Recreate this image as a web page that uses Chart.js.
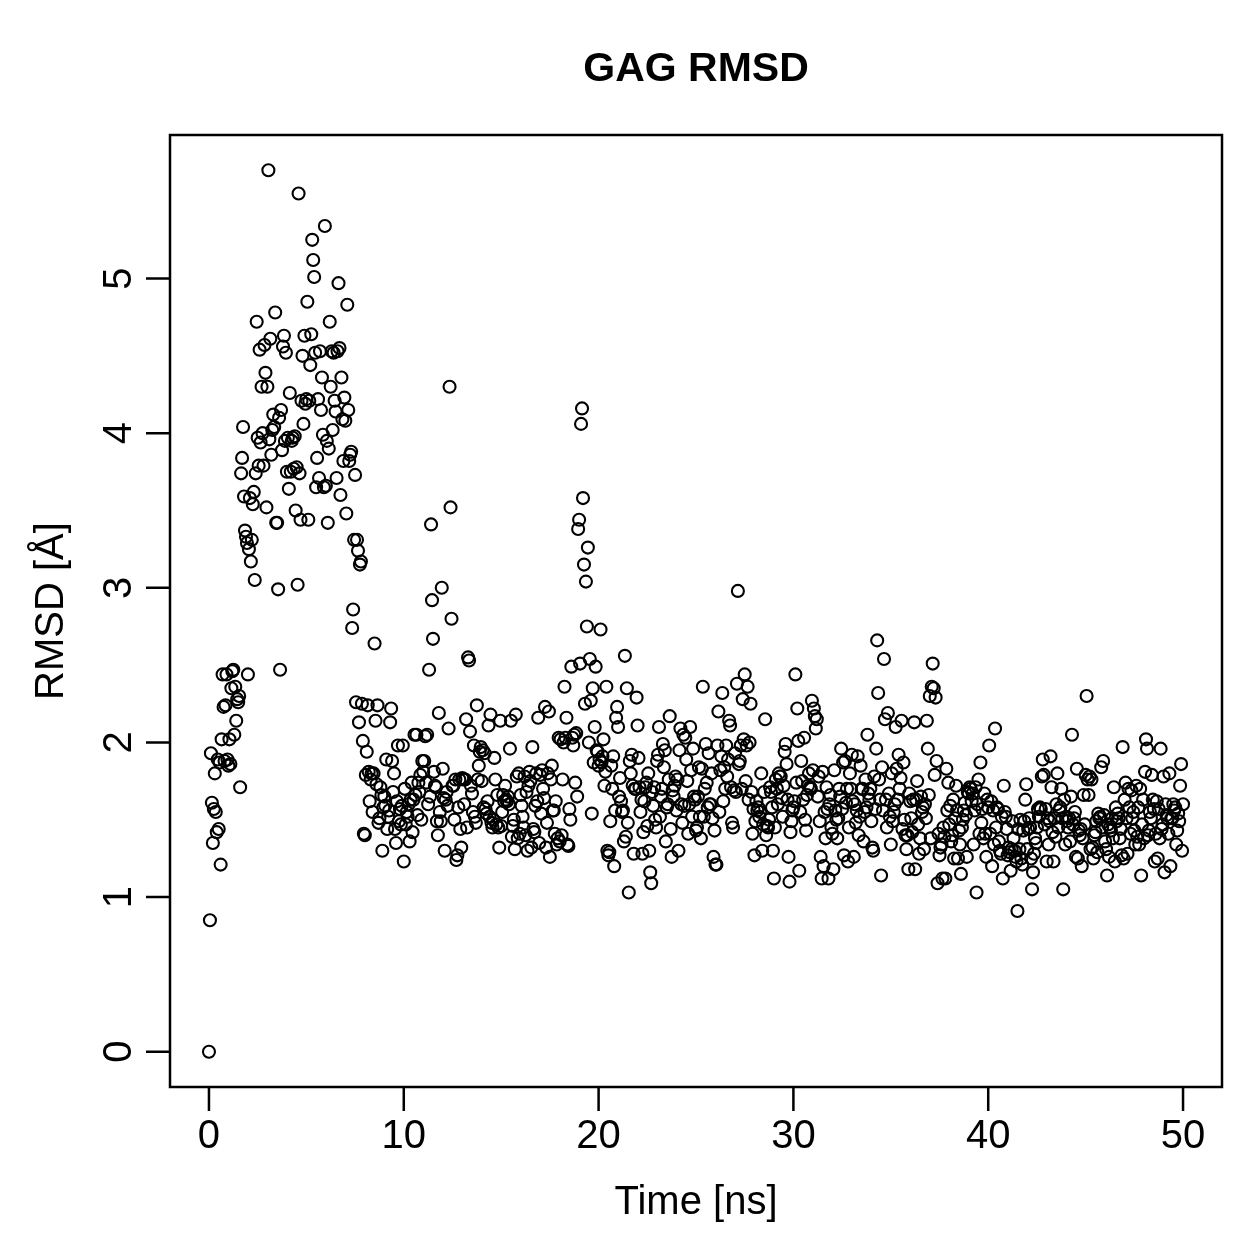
<!DOCTYPE html>
<html>
<head>
<meta charset="utf-8">
<script src="https://cdn.jsdelivr.net/npm/chart.js@4.4.0/dist/chart.umd.min.js"></script>
<style>
  html, body { margin: 0; padding: 0; background: #fff; }
</style>
</head>
<body>
<canvas id="rmsdChart" width="1259" height="1259"></canvas>
<script>
// one frame every 0.05 ns, 0..50 ns
const timeStep = 0.05;
// RMSD in Angstrom, one row per ns (20 frames each)
const rmsd = [
  0, 0.85, 1.93, 1.61, 1.35, 1.57, 1.80, 1.55, 1.42, 1.89, 1.44, 1.87, 1.21, 2.02, 2.44, 2.23, 1.88, 2.24, 2.44, 1.89,
  1.85, 2.02, 1.86, 2.35, 2.46, 2.47, 2.05, 2.36, 2.14, 2.28, 2.26, 2.30, 1.71, 3.74, 3.84, 4.04, 3.59, 3.37, 3.33, 3.29,
  2.44, 3.25, 3.58, 3.17, 3.31, 3.54, 3.62, 3.05, 3.74, 4.72, 3.97, 3.79, 4.54, 3.94, 4.30, 4.00, 3.79, 4.57, 4.39, 3.52,
  4.30, 5.70, 3.96, 4.61, 3.86, 4.02, 4.12, 4.04, 4.78, 3.42, 3.42, 2.99, 4.10, 2.47, 4.15, 3.89, 4.56, 4.63, 3.95, 4.52,
  3.75, 3.97, 3.64, 4.26, 3.75, 3.95, 3.97, 3.77, 3.98, 3.50, 3.78, 3.02, 5.55, 3.74, 3.44, 4.21, 4.50, 4.06, 4.63, 4.19,
  4.22, 4.85, 3.44, 4.21, 4.44, 4.64, 5.25, 5.12, 5.01, 4.52, 3.65, 3.84, 4.22, 3.71, 4.53, 4.15, 4.36, 3.99, 3.65, 5.34,
  3.66, 3.95, 3.42, 3.90, 4.72, 4.30, 4.53, 4.02, 4.52, 4.21, 4.14, 3.71, 4.53, 4.97, 4.55, 3.60, 4.36, 4.09, 3.82, 4.23,
  4.08, 3.48, 4.83, 4.15, 3.82, 3.86, 3.88, 2.74, 2.86, 3.31, 3.73, 2.26, 3.31, 3.24, 2.13, 3.15, 3.17, 2.25, 2.01, 1.41,
  1.40, 1.79, 1.94, 2.24, 1.81, 1.62, 1.76, 1.80, 1.55, 1.80, 2.64, 2.14, 1.73, 2.24, 1.48, 1.51, 1.71, 1.66, 1.30, 1.58,
  1.65, 1.59, 1.89, 1.44, 1.52, 1.56, 2.13, 2.22, 1.88, 1.68, 1.80, 1.44, 1.35, 1.62, 1.98, 1.49, 1.57, 1.47, 1.59, 1.98,
  1.23, 1.70, 1.47, 1.55, 1.52, 1.60, 1.36, 1.63, 1.74, 1.42, 1.63, 2.05, 1.66, 2.05, 1.53, 1.74, 1.68, 1.79, 1.50, 1.88,
  1.81, 1.88, 2.04, 1.74, 2.05, 1.60, 2.47, 1.65, 3.41, 2.92, 2.67, 1.81, 1.72, 1.71, 1.49, 1.40, 2.19, 1.55, 1.49, 3.00,
  1.83, 1.64, 1.30, 1.63, 1.68, 1.59, 2.09, 4.30, 3.52, 2.80, 1.72, 1.72, 1.50, 1.76, 1.24, 1.27, 1.58, 1.76, 1.44, 1.32,
  1.77, 1.76, 1.60, 1.76, 2.15, 1.45, 2.55, 2.53, 2.07, 1.72, 1.67, 1.55, 1.98, 1.52, 1.48, 2.24, 1.76, 1.85, 1.94, 1.97,
  1.75, 1.95, 1.58, 1.93, 1.57, 1.54, 1.62, 2.11, 1.52, 2.18, 1.48, 1.45, 1.50, 1.90, 1.76, 1.47, 1.66, 1.45, 1.32, 2.14,
  1.46, 1.55, 1.66, 1.62, 1.72, 1.63, 1.62, 1.65, 1.60, 1.96, 2.14, 1.39, 1.46, 1.50, 1.31, 2.18, 1.78, 1.38, 1.80, 1.41,
  1.66, 1.59, 1.52, 1.45, 1.78, 1.40, 1.68, 1.30, 1.72, 1.81, 1.75, 1.32, 1.97, 1.44, 1.42, 1.59, 1.80, 1.62, 2.16, 1.35,
  1.79, 1.54, 1.82, 1.70, 1.64, 2.23, 1.32, 1.48, 1.80, 2.20, 1.26, 1.76, 1.85, 1.56, 1.56, 1.41, 1.62, 1.34, 1.38, 2.03,
  1.36, 2.02, 1.40, 1.76, 2.00, 2.36, 2.03, 2.16, 1.34, 1.33, 1.57, 1.50, 2.49, 2.03, 1.98, 2.05, 1.74, 2.06, 1.65, 3.38,
  3.44, 2.51, 4.06, 4.16, 3.58, 3.15, 2.25, 3.04, 2.75, 3.26, 2.00, 2.54, 2.27, 1.54, 2.35, 1.87, 2.10, 2.49, 1.95, 1.94,
  1.85, 1.89, 2.73, 1.87, 1.91, 2.02, 1.72, 1.81, 2.36, 1.30, 1.27, 1.29, 1.49, 1.85, 1.70, 1.91, 1.20, 1.56, 2.16, 2.23,
  2.10, 1.65, 1.77, 1.62, 1.55, 1.56, 1.36, 2.56, 1.39, 2.35, 1.48, 1.03, 1.88, 1.80, 1.92, 1.72, 1.28, 1.70, 1.70, 2.29,
  2.11, 1.90, 1.71, 1.55, 1.63, 1.28, 1.42, 1.62, 1.71, 1.74, 1.46, 1.80, 1.30, 1.16, 1.09, 1.68, 1.59, 1.71, 1.50, 1.45,
  1.88, 1.92, 2.10, 1.52, 1.65, 1.70, 1.99, 1.84, 1.95, 1.36, 1.58, 1.60, 1.76, 2.17, 1.44, 1.26, 1.69, 1.65, 1.72, 1.78,
  1.56, 1.76, 1.30, 1.95, 2.09, 1.60, 1.48, 2.05, 1.59, 2.03, 1.89, 1.75, 1.41, 1.60, 2.10, 1.82, 1.52, 1.96, 1.65, 1.63,
  1.43, 1.45, 1.65, 1.84, 1.52, 1.38, 1.83, 2.36, 1.52, 1.70, 1.99, 1.74, 1.58, 1.93, 1.60, 1.60, 1.80, 1.51, 1.26, 1.43,
  1.21, 1.21, 1.98, 2.20, 1.55, 1.82, 1.91, 2.32, 1.62, 1.84, 1.70, 1.98, 1.78, 1.89, 2.14, 2.11, 1.71, 1.48, 1.45, 1.69,
  1.93, 1.68, 2.38, 2.98, 1.86, 1.88, 1.98, 1.70, 2.28, 2.02, 2.44, 1.75, 1.98, 2.36, 1.63, 2.00, 2.25, 1.68, 1.41, 1.57,
  1.27, 1.49, 1.62, 1.56, 1.58, 1.52, 1.55, 1.80, 1.30, 1.47, 1.68, 2.15, 1.40, 1.46, 1.45, 1.50, 1.71, 1.68, 1.58, 1.30,
  1.12, 1.45, 1.76, 1.70, 1.60, 1.80, 1.78, 1.78, 1.64, 1.52, 1.72, 1.94, 1.99, 1.86, 1.63, 1.26, 1.10, 1.42, 1.49, 1.56,
  1.58, 1.62, 2.44, 1.74, 2.22, 2.01, 1.17, 1.55, 1.88, 1.75, 1.63, 2.03, 1.50, 1.43, 1.66, 1.72, 1.80, 1.71, 1.70, 2.27,
  1.82, 2.22, 2.17, 2.09, 2.15, 1.65, 1.78, 1.49, 1.26, 1.12, 1.81, 1.20, 1.55, 1.38, 1.71, 1.57, 1.12, 1.60, 1.66, 1.45,
  1.41, 1.18, 1.82, 1.56, 1.50, 1.38, 1.51, 1.70, 1.65, 1.96, 1.57, 1.87, 1.27, 1.88, 1.61, 1.70, 1.23, 1.45, 1.80, 1.70,
  1.92, 1.62, 1.26, 1.60, 1.48, 1.56, 1.91, 1.40, 1.52, 1.85, 1.70, 1.70, 1.36, 1.55, 1.76, 1.58, 2.05, 1.67, 1.63, 1.70,
  1.49, 1.32, 1.30, 1.78, 1.57, 1.96, 2.66, 2.32, 1.76, 1.63, 1.14, 1.84, 1.56, 2.54, 2.15, 1.63, 1.45, 2.19, 1.67, 1.52,
  1.34, 1.80, 1.49, 1.55, 1.60, 2.10, 1.83, 1.63, 1.92, 1.70, 1.77, 2.14, 1.44, 1.87, 1.50, 1.40, 1.31, 1.40, 1.18, 1.67,
  1.62, 1.51, 1.42, 1.63, 2.13, 1.18, 1.63, 1.75, 1.47, 1.28, 1.38, 1.65, 1.55, 1.58, 1.31, 1.60, 1.51, 2.14, 1.96, 1.66,
  2.30, 1.38, 2.36, 2.51, 2.35, 1.79, 2.29, 1.88, 1.09, 1.41, 1.27, 1.32, 1.34, 1.12, 1.45, 1.39, 1.12, 1.83, 1.56, 1.74,
  1.47, 1.59, 1.36, 1.40, 1.63, 1.25, 1.51, 1.72, 1.56, 1.25, 1.43, 1.34, 1.15, 1.45, 1.50, 1.56, 1.61, 1.53, 1.26, 1.68,
  1.67, 1.71, 1.70, 1.62, 1.67, 1.34, 1.56, 1.71, 1.03, 1.60, 1.76, 1.41, 1.87, 1.48, 1.57, 1.38, 1.67, 1.41, 1.26, 1.63,
  1.58, 1.98, 1.41, 1.62, 1.20, 1.56, 1.34, 2.09, 1.45, 1.58, 1.57, 1.36, 1.30, 1.28, 1.52, 1.12, 1.72, 1.55, 1.52, 1.44,
  1.27, 1.32, 1.29, 1.17, 1.31, 1.49, 1.38, 1.30, 1.26, 1.23, 0.91, 1.44, 1.31, 1.50, 1.25, 1.21, 1.43, 1.49, 1.63, 1.73,
  1.31, 1.44, 1.51, 1.45, 1.25, 1.05, 1.16, 1.28, 1.38, 1.35, 1.45, 1.57, 1.52, 1.58, 1.57, 1.78, 1.89, 1.79, 1.47, 1.57,
  1.23, 1.51, 1.34, 1.49, 1.91, 1.71, 1.42, 1.23, 1.51, 1.39, 1.60, 1.80, 1.45, 1.56, 1.58, 1.70, 1.51, 1.05, 1.63, 1.34,
  1.52, 1.49, 1.45, 1.51, 1.36, 1.65, 2.05, 1.47, 1.51, 1.55, 1.26, 1.83, 1.25, 1.43, 1.40, 1.44, 1.20, 1.38, 1.66, 1.47,
  1.79, 2.30, 1.76, 1.66, 1.78, 1.31, 1.76, 1.32, 1.25, 1.40, 1.42, 1.49, 1.29, 1.54, 1.51, 1.52, 1.84, 1.45, 1.88, 1.53,
  1.36, 1.31, 1.14, 1.47, 1.26, 1.45, 1.43, 1.51, 1.38, 1.71, 1.23, 1.58, 1.49, 1.54, 1.51, 1.38, 1.44, 1.27, 1.97, 1.25,
  1.63, 1.74, 1.51, 1.28, 1.70, 1.58, 1.41, 1.69, 1.51, 1.55, 1.43, 1.34, 1.72, 1.39, 1.58, 1.34, 1.70, 1.14, 1.47, 1.63,
  1.38, 1.81, 2.02, 1.96, 1.40, 1.43, 1.55, 1.51, 1.79, 1.63, 1.57, 1.23, 1.41, 1.62, 1.25, 1.57, 1.38, 1.96, 1.44, 1.47,
  1.78, 1.16, 1.60, 1.53, 1.51, 1.41, 1.80, 1.20, 1.51, 1.51, 1.60, 1.56, 1.58, 1.34, 1.43, 1.54, 1.49, 1.72, 1.86, 1.30,
  1.60
];
const xTicks = [0, 10, 20, 30, 40, 50];
const yTicks = [0, 1, 2, 3, 4, 5];

const points = rmsd.map((v, i) => ({ x: +(i * timeStep).toFixed(2), y: v }));

const FONT = '"Liberation Sans", Arial, Helvetica, sans-serif';

// base R style axes, box and labels
const rAxes = {
  id: 'rAxes',
  afterDraw(chart) {
    const ctx = chart.ctx;
    const area = chart.chartArea;
    const xs = chart.scales.x, ys = chart.scales.y;
    const tick = 24;
    ctx.save();
    ctx.strokeStyle = '#000';
    ctx.fillStyle = '#000';
    ctx.lineWidth = 2.5;
    ctx.strokeRect(area.left, area.top, area.right - area.left, area.bottom - area.top);

    ctx.font = '40px ' + FONT;
    ctx.textAlign = 'center';
    ctx.textBaseline = 'middle';
    ctx.beginPath();
    xTicks.forEach(t => {
      const px = xs.getPixelForValue(t);
      ctx.moveTo(px, area.bottom);
      ctx.lineTo(px, area.bottom + tick);
    });
    yTicks.forEach(t => {
      const py = ys.getPixelForValue(t);
      ctx.moveTo(area.left, py);
      ctx.lineTo(area.left - tick, py);
    });
    ctx.stroke();

    xTicks.forEach(t => {
      ctx.fillText(String(t), xs.getPixelForValue(t), area.bottom + 50);
    });
    yTicks.forEach(t => {
      ctx.save();
      ctx.translate(area.left - 50, ys.getPixelForValue(t));
      ctx.rotate(-Math.PI / 2);
      ctx.fillText(String(t), 0, 0);
      ctx.restore();
    });

    ctx.fillText('Time [ns]', (area.left + area.right) / 2, 1203);
    ctx.save();
    ctx.translate(52, (area.top + area.bottom) / 2);
    ctx.rotate(-Math.PI / 2);
    ctx.fillText('RMSD [Å]', 0, 0);
    ctx.restore();

    ctx.font = 'bold 41px ' + FONT;
    ctx.fillText('GAG RMSD', (area.left + area.right) / 2, 70);
    ctx.restore();
  }
};

new Chart(document.getElementById('rmsdChart').getContext('2d'), {
  type: 'scatter',
  data: {
    datasets: [{
      label: 'RMSD',
      data: points,
      pointStyle: 'circle',
      pointRadius: 6,
      pointBorderWidth: 2.1,
      pointBackgroundColor: 'rgba(0,0,0,0)',
      pointBorderColor: '#000',
      showLine: false
    }]
  },
  options: {
    responsive: false,
    devicePixelRatio: 1,
    animation: false,
    layout: { padding: { left: 170, right: 37, top: 135, bottom: 172 } },
    scales: {
      x: { type: 'linear', min: -2, max: 52, display: false },
      y: { type: 'linear', min: -0.228, max: 5.928, display: false }
    },
    plugins: {
      legend: { display: false },
      tooltip: { enabled: false },
      title: { display: false }
    }
  },
  plugins: [rAxes]
});
</script>
</body>
</html>
